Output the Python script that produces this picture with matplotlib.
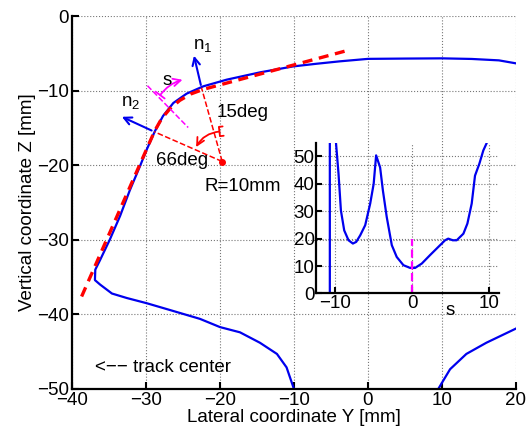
import matplotlib
matplotlib.use('Agg')
import matplotlib.pyplot as plt

plt.rcParams['font.family'] = ['Liberation Sans', 'DejaVu Sans']
plt.rcParams['font.size'] = 13.5
plt.rcParams['mathtext.default'] = 'regular'

# profile (blue), left/upper part and lower part
profY = [20, 17.7, 14, 10, 5, 0, -3.8, -7, -10.1, -14.6, -19.1, -22.25, -24.5, -26.3,
         -27.7, -28.8, -29.9, -30.8, -32.2, -33.5, -34.9, -36.2, -36.85, -36.9, -36.2,
         -34.6, -32.6, -29.9, -26.8, -22.7, -20, -17.3, -14.6, -12.3, -11.0, -10.0]
profZ = [-6.34, -5.94, -5.75, -5.67, -5.7, -5.74, -6.07, -6.4, -6.75, -7.55, -8.53, -9.42,
         -10.4, -11.65, -13.4, -15.45, -17.9, -20.1, -23.4, -26.8, -30.0, -32.7, -34.0,
         -35.4, -36.0, -37.2, -37.8, -38.5, -39.4, -40.6, -41.7, -42.4, -43.8, -45.3,
         -47.1, -50.0]
profY2 = [9.5, 11.1, 13.3, 16.0, 20.0]
profZ2 = [-50, -47.35, -45.3, -43.8, -41.9]

# fitted contour (red dashed): two tangents and an R=10 arc
fitY = [-38.7, -28.84, -27.89, -26.77, -25.44, -23.93, -22.29, -2.5]
fitZ = [-37.6, -15.43, -13.76, -12.43, -11.31, -10.44, -9.84, -4.54]
center = (-19.7, -19.5)
p1 = (-22.5, -9.6)
p2 = (-28.9, -15.5)

# inset: value vs s
s = [-10.7, -10.7, -9.9, -9.57, -9.26, -8.83, -8.27, -7.7, -7.27, -6.75, -6.1, -5.45,
     -5.0, -4.68, -4.16, -3.8, -3.3, -2.64, -2.0, -1.13, -0.26, 0.39, 1.26, 2.34, 3.42,
     4.29, 4.7, 5.28, 5.8, 6.67, 7.19, 7.75, 8.18, 8.74, 9.26, 9.7]
v = [0, 400, 55, 43.7, 30.3, 23, 19.4, 18.2, 18.8, 21.2, 24.9, 32.8, 40, 50.4, 46, 37.6,
     27.9, 17.6, 13.3, 10.3, 9.3, 9.3, 10.9, 14, 17, 19.4, 20, 19.4, 19.4, 21.8, 25.5,
     32.8, 43, 47.3, 52.2, 54.9]

fig = plt.figure(figsize=(5.27, 4.34), dpi=100)
ax = fig.add_axes([0.1366, 0.1037, 0.8424, 0.8593])

ax.plot(profY, profZ, color='#0000ee', lw=1.6)
ax.plot(profY2, profZ2, color='#0000ee', lw=1.6)
ax.plot(fitY, fitZ, color='red', lw=2.4, ls=(0, (3, 2)))

ax.plot([center[0], p1[0]], [center[1], p1[1]], color='red', lw=1.1, ls='--')
ax.plot([center[0], p2[0]], [center[1], p2[1]], color='red', lw=1.1, ls='--')
ax.plot(center[0], center[1], 'o', color='red', ms=4)
ax.plot([-29.8, -24.3], [-9.34, -14.94], color='magenta', lw=1.1, ls='--')

ax.annotate('', xy=(-23.6, -4.95), xytext=p1,
            arrowprops=dict(arrowstyle='->', color='#0000ee', lw=1.5))
ax.annotate('', xy=(-33.6, -13.35), xytext=p2,
            arrowprops=dict(arrowstyle='->', color='#0000ee', lw=1.5))
ax.annotate('', xy=(-24.7, -8.45), xytext=(-28.3, -10.9),
            arrowprops=dict(arrowstyle=']->,widthA=0.3,lengthA=0', color='magenta', lw=1.3,
                            connectionstyle='arc3,rad=-0.2'))
ax.annotate('', xy=(-23.4, -17.9), xytext=(-19.7, -15.45),
            arrowprops=dict(arrowstyle=']->,widthA=0.25,lengthA=0.2', color='red', lw=1.3,
                            connectionstyle='arc3,rad=0.3'))

ax.text(-23.65, -3.9, 'n$_1$', va='center', ha='left')
ax.text(-33.4, -11.6, 'n$_2$', va='center', ha='left')
ax.text(-27.2, -8.6, 's', va='center', ha='center')
ax.text(-20.5, -12.9, '15deg', va='center', ha='left')
ax.text(-28.7, -19.35, '66deg', va='center', ha='left')
ax.text(-22.1, -22.9, 'R=10mm', va='center', ha='left')
ax.text(-36.9, -47.1, '<\u2212\u2212 track center', va='center', ha='left')

ax.set_xlim(-40, 20)
ax.set_ylim(-50, 0)
ax.set_xticks([-40, -30, -20, -10, 0, 10, 20])
ax.set_yticks([-50, -40, -30, -20, -10, 0])
ax.grid(True, ls=':', color='#777777', lw=0.8)
ax.tick_params(direction='in', length=5, width=1.5, pad=2)
for sp in ['top', 'right']:
    ax.spines[sp].set_visible(False)
for sp in ['left', 'bottom']:
    ax.spines[sp].set_linewidth(1.6)
ax.set_xlabel('Lateral coordinate Y [mm]', labelpad=0)
ax.set_ylabel('Vertical coordinate Z [mm]', labelpad=1)

# inset
ax2 = fig.add_axes([0.5996, 0.324, 0.348, 0.347])
ax2.patch.set_alpha(0)
ax2.plot(s, v, color='#0000ee', lw=1.6)
ax2.plot([0, 0], [0, 20], color='magenta', lw=1.6, ls='--')
ax2.set_xlim(-12.5, 11.35)
ax2.set_ylim(0, 55)
ax2.set_xticks([-10, 0, 10])
ax2.set_yticks([0, 10, 20, 30, 40, 50])
ax2.grid(True, ls=':', color='#777777', lw=0.8)
ax2.tick_params(direction='in', length=4, width=1.5, pad=1)
for sp in ['top', 'right']:
    ax2.spines[sp].set_visible(False)
for sp in ['left', 'bottom']:
    ax2.spines[sp].set_linewidth(1.6)
ax2.text(4.9, -6.1, 's', ha='center', va='center')

fig.savefig('out.png', dpi=100)
